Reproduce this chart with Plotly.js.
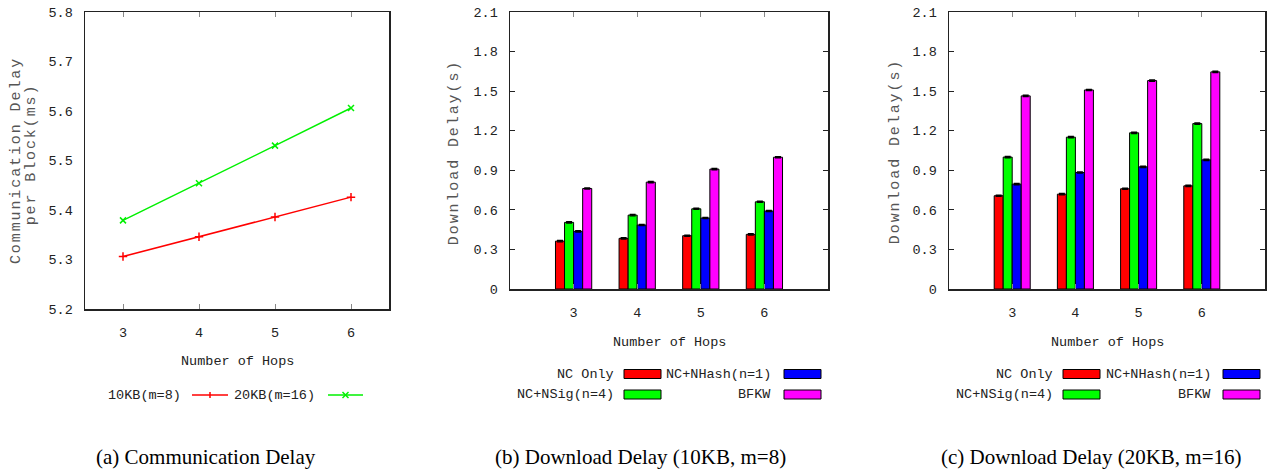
<!DOCTYPE html>
<html><head><meta charset="utf-8">
<script src="https://cdn.plot.ly/plotly-3.0.1.min.js"></script>
<style>
html,body{margin:0;padding:0;background:#fff;}
g.annotation[data-index="0"] text, g.annotation[data-index="1"] text,
g.annotation[data-index="2"] text, g.annotation[data-index="3"] text {letter-spacing:1.9px;}
</style></head>
<body><div id="chart" style="width:1268px;height:474px;"></div>
<script>
// ---------- data ----------
const hops = [3, 4, 5, 6];
const commSeriesNames = ['10KB(m=8)', '20KB(m=16)'];
const comm10KB = [5.306, 5.346, 5.386, 5.426];
const comm20KB = [5.379, 5.454, 5.530, 5.606];

const dlSeriesNames = ['NC Only', 'NC+NSig(n=4)', 'NC+NHash(n=1)', 'BFKW'];
const dl10_ncOnly  = [0.363, 0.384, 0.404, 0.414];
const dl10_ncNSig  = [0.505, 0.560, 0.608, 0.661];
const dl10_ncNHash = [0.437, 0.485, 0.538, 0.591];
const dl10_bfkw    = [0.762, 0.810, 0.909, 0.999];
const dl20_ncOnly  = [0.707, 0.719, 0.760, 0.782];
const dl20_ncNSig  = [1.000, 1.151, 1.184, 1.254];
const dl20_ncNHash = [0.795, 0.883, 0.926, 0.979];
const dl20_bfkw    = [1.464, 1.509, 1.580, 1.646];

const yTitleA = ['Communication Delay', 'per Block(ms)'];
const yTitleB = 'Download Delay(s)';
const xTitle = 'Number of Hops';
const captions = ['(a) Communication Delay', '(b) Download Delay (10KB, m=8)', '(c) Download Delay (20KB, m=16)'];

// ---------- styles ----------
const commColors = ['#ff0000', '#00f000'];
const commSymbols = ['cross-thin', 'x-thin'];
const barColors = ['#ff0000', '#00ff00', '#0000ff', '#ff00ff'];
const W = 1268, H = 474;
const px = x => x / W;
const py = y => 1 - y / H;
const mono = 'Liberation Mono, Courier New, monospace';
const tickFont = {family: mono, size: 13.5, color: '#222'};

const traces = [];
[comm10KB, comm20KB].forEach((vals, i) => {
  traces.push({
    type: 'scatter', mode: 'lines+markers', x: hops, y: vals, name: commSeriesNames[i],
    xaxis: 'x', yaxis: 'y',
    line: {color: commColors[i], width: 1.5},
    marker: {symbol: commSymbols[i], size: 6, color: commColors[i], line: {color: commColors[i], width: 1.5}}
  });
});
const dl10 = [dl10_ncOnly, dl10_ncNSig, dl10_ncNHash, dl10_bfkw];
const dl20 = [dl20_ncOnly, dl20_ncNSig, dl20_ncNHash, dl20_bfkw];
[[dl10, 'x2', 'y2'], [dl20, 'x3', 'y3']].forEach(([set, xa, ya]) => {
  set.forEach((vals, i) => {
    traces.push({
      type: 'bar', x: hops, y: vals, name: dlSeriesNames[i], xaxis: xa, yaxis: ya,
      marker: {color: barColors[i], line: {color: '#000', width: 1}},
      error_y: {type: 'constant', value: 0.005, color: '#000', thickness: 1.3, width: 3}
    });
  });
});

function xAxis(domain, range, anchor) {
  return {domain, range, anchor, tickvals: hops, ticks: 'inside', ticklen: 5, tickcolor: '#888',
    mirror: 'ticks', showline: true, linecolor: '#222', linewidth: 1.5, showgrid: false, zeroline: false,
    tickfont: tickFont, ticklabelstandoff: 10, fixedrange: true};
}
function yAxis(domain, range, dtick, anchor, ticks) {
  return {domain, range, anchor, dtick, tick0: range[0], ticks: ticks, ticklen: 5, tickcolor: '#222',
    mirror: ticks ? 'ticks' : true, showline: true, linecolor: '#222', linewidth: 1.5, showgrid: false, zeroline: false,
    tickfont: tickFont, ticklabelstandoff: 8, fixedrange: true};
}
const yDomA = [py(309), py(12)];
const yDomB = [py(289), py(12)];

const annotations = [];
function ann(text, x, y, opts) {
  annotations.push(Object.assign({text, x: px(x), y: py(y), xref: 'paper', yref: 'paper', showarrow: false,
    xanchor: 'center', yanchor: 'middle', font: {family: mono, size: 13.5, color: '#222'}}, opts || {}));
}
// y titles first (indices 0..3 get letter-spacing)
const yTitleFont = {family: mono, size: 15, color: '#555'};
ann(yTitleA[0], 17, 161, {textangle: -90, font: yTitleFont});
ann(yTitleA[1], 31, 155, {textangle: -90, font: yTitleFont});
ann(yTitleB, 455, 153, {textangle: -90, font: yTitleFont});
ann(yTitleB, 895, 152, {textangle: -90, font: yTitleFont});
// x titles
ann(xTitle, 237, 361);
ann(xTitle, 669, 342);
ann(xTitle, 1107, 342);
// captions
const capFont = {family: 'Liberation Serif, Times New Roman, serif', size: 21, color: '#000'};
ann(captions[0], 206, 457, {font: capFont});
ann(captions[1], 640, 457, {font: capFont});
ann(captions[2], 1091, 457, {font: capFont});

const shapes = [];
// legend for (a)
const legA = [{textEnd: 183, x0: 192, x1: 228}, {textEnd: 317, x0: 328, x1: 363}];
const legAy = 395;
legA.forEach((p, i) => {
  ann(commSeriesNames[i], p.textEnd, legAy, {xanchor: 'right'});
  shapes.push({type: 'line', xref: 'paper', yref: 'paper', x0: px(p.x0), x1: px(p.x1), y0: py(legAy), y1: py(legAy),
    line: {color: commColors[i], width: 1.5}});
  const cx = (p.x0 + p.x1) / 2;
  if (i === 0) {
    shapes.push({type: 'line', xref: 'paper', yref: 'paper', x0: px(cx), x1: px(cx), y0: py(legAy - 3), y1: py(legAy + 3),
      line: {color: commColors[i], width: 1.5}});
  } else {
    shapes.push({type: 'line', xref: 'paper', yref: 'paper', x0: px(cx - 3), x1: px(cx + 3), y0: py(legAy - 3), y1: py(legAy + 3),
      line: {color: commColors[i], width: 1.5}});
    shapes.push({type: 'line', xref: 'paper', yref: 'paper', x0: px(cx - 3), x1: px(cx + 3), y0: py(legAy + 3), y1: py(legAy - 3),
      line: {color: commColors[i], width: 1.5}});
  }
});
// legends for (b) and (c): column-major order
function barLegend(colTextEnds, colSwatch) {
  const rowsY = [374, 394.5];
  dlSeriesNames.forEach((name, i) => {
    const col = Math.floor(i / 2), row = i % 2;
    const y = rowsY[row];
    ann(name, colTextEnds[col], y, {xanchor: 'right'});
    shapes.push({type: 'rect', xref: 'paper', yref: 'paper', x0: px(colSwatch[col]), x1: px(colSwatch[col] + 37),
      y0: py(y - 4.5), y1: py(y + 4.5), fillcolor: barColors[i], line: {color: '#000', width: 1}});
  });
}
barLegend([616, 773], [624, 784]);
barLegend([1055, 1213], [1063, 1223]);

const layout = {
  width: W, height: H, margin: {l: 0, r: 0, t: 0, b: 0}, paper_bgcolor: '#fff', plot_bgcolor: '#fff',
  showlegend: false, barmode: 'group', bargap: 0.43, bargroupgap: 0,
  xaxis: xAxis([px(85), px(389)], [2.5, 6.5], 'y'),
  yaxis: yAxis(yDomA, [5.2, 5.8], 0.1, 'x', ''),
  xaxis2: xAxis([px(510), px(828)], [2, 7], 'y2'),
  yaxis2: yAxis(yDomB, [0, 2.1], 0.3, 'x2', 'inside'),
  xaxis3: xAxis([px(949), px(1265)], [2, 7], 'y3'),
  yaxis3: yAxis(yDomB, [0, 2.1], 0.3, 'x3', 'inside'),
  annotations, shapes
};
layout.yaxis.tickformat = '.1f';
Plotly.newPlot('chart', traces, layout, {staticPlot: true, displayModeBar: false});
</script></body></html>
